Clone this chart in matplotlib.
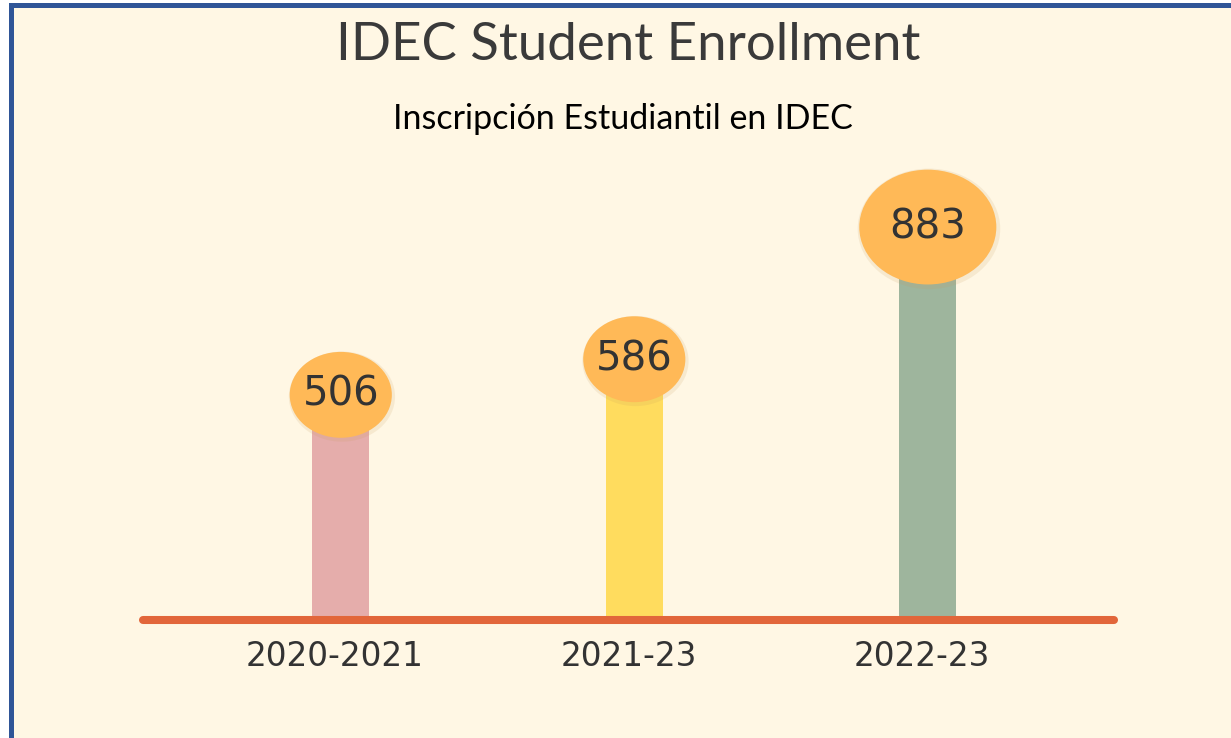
import matplotlib.pyplot as plt
from matplotlib.patches import Ellipse, Rectangle

# datos
years = ['2020-2021', '2021-23', '2022-23']
enrollment = [506, 586, 883]

title = 'IDEC Student Enrollment'
subtitle = 'Inscripción Estudiantil en IDEC'

# estilos
bar_colors = ['#E5ADAB', '#FFDC5E', '#9EB59D']
bubble_color = '#FFB957'
base_color = '#E2663A'
bg_color = '#FFF7E4'
border_color = '#2F5597'
text_dark = '#333333'
bubble_w = [0.348, 0.348, 0.467]   # en unidades de x
bubble_h = [193, 193, 258]         # en unidades de valor

W, H, DPI = 1231, 738, 100
fig = plt.figure(figsize=(W / DPI, H / DPI), dpi=DPI, facecolor='white')

# fondo crema con borde azul (solo izquierda y arriba visibles)
fig.patches.append(Rectangle((10.5 / W, -0.1), 1.2, 1.1 - 5 / H,
                             transform=fig.transFigure, facecolor=bg_color,
                             edgecolor=border_color, linewidth=3.6, zorder=-10))

ax = fig.add_axes([0, 0, 1, 1])
ax.set_facecolor('none')
ax.set_xlim(-1.161, 3.033)
ax.set_ylim(-265.2, 1393.3)
ax.axis('off')

x = list(range(len(years)))

# barras
ax.bar(x, enrollment, width=0.194, color=bar_colors, zorder=2)

# linea base
ax.plot([-0.675, 2.635], [0, 0], color=base_color, linewidth=5.8,
        solid_capstyle='round', zorder=3)

# burbujas con los valores
for i, v in enumerate(enrollment):
    shadow = Ellipse((x[i] + 0.004, v - 4), bubble_w[i] * 1.04, bubble_h[i] * 1.05,
                     facecolor='#C89A5A', alpha=0.15, linewidth=0, zorder=3)
    ax.add_patch(shadow)
    e = Ellipse((x[i], v), bubble_w[i], bubble_h[i], facecolor=bubble_color,
                linewidth=0, zorder=4)
    ax.add_patch(e)
    ax.text(x[i], v, str(v), ha='center', va='center', fontsize=29,
            family='DejaVu Sans', color=text_dark, zorder=5)

# etiquetas del eje
for i, lab in enumerate(years):
    ax.text(x[i] - 0.02, -83, lab, ha='center', va='center', fontsize=23.5,
            family='DejaVu Sans', color=text_dark)

fig.text(628 / W, 1 - 60 / H, title, ha='center', va='baseline',
         fontsize=38, family='Lato', color='#3A3A3A')
fig.text(623 / W, 1 - 129 / H, subtitle, ha='center', va='baseline',
         fontsize=24.5, family='Lato', color='black')

fig.savefig('out.png', dpi=DPI, facecolor=fig.get_facecolor())
